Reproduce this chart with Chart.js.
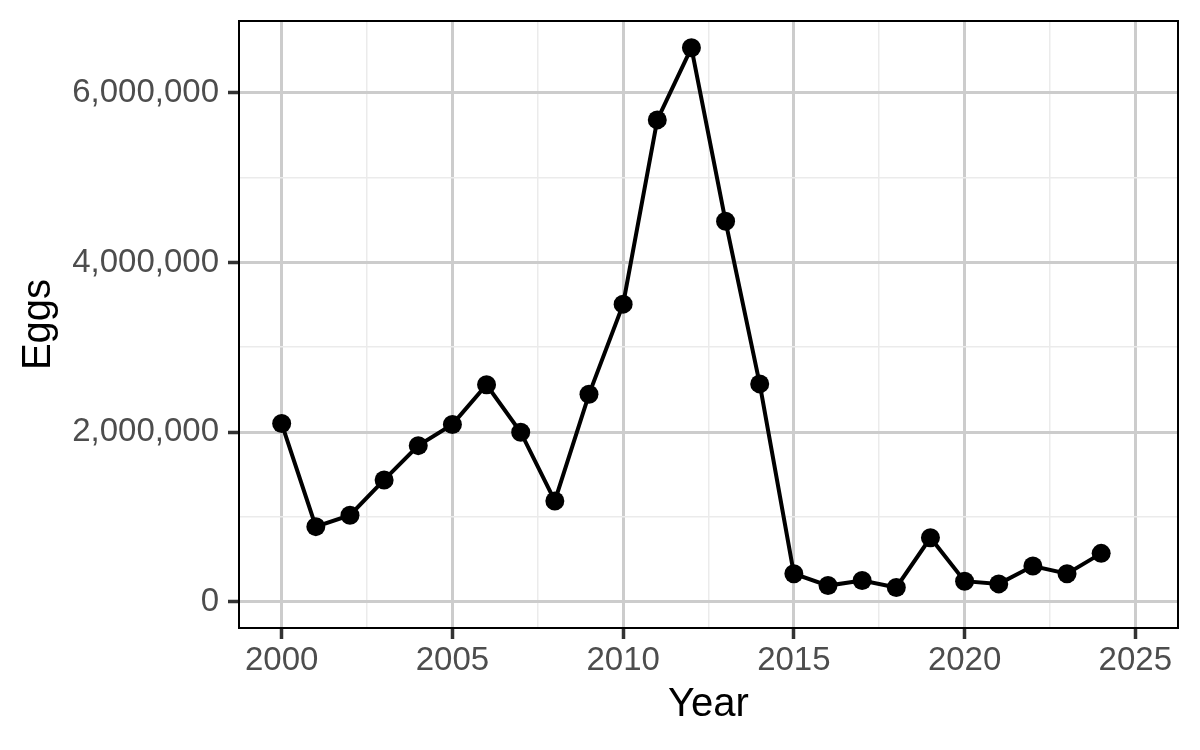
<!DOCTYPE html>
<html>
<head>
<meta charset="utf-8">
<title>Eggs by year</title>
<script src="https://cdn.jsdelivr.net/npm/chart.js@4/dist/chart.umd.min.js"></script>
<style>
  html, body { margin: 0; padding: 0; background: #fff; }
  #chart { display: block; }
</style>
</head>
<body>
<canvas id="chart" width="1200" height="750"></canvas>
<script>
// Values
const years = [2000, 2001, 2002, 2003, 2004, 2005, 2006, 2007, 2008, 2009, 2010, 2011, 2012,
               2013, 2014, 2015, 2016, 2017, 2018, 2019, 2020, 2021, 2022, 2023, 2024];
const eggs = [2100000, 885000, 1020000, 1435000, 1840000, 2090000, 2557000, 1998000, 1188000,
              2445000, 3508000, 5680000, 6530000, 4485000, 2568000, 330000, 190000, 250000,
              168000, 754000, 242000, 210000, 420000, 330000, 570000];

// x ticks: majors every 5 years, minors in between
const xTicks = [2000, 2002.5, 2005, 2007.5, 2010, 2012.5, 2015, 2017.5, 2020, 2022.5, 2025];
const yTicks = [0, 1000000, 2000000, 3000000, 4000000, 5000000, 6000000];

const isMajorX = v => v % 5 === 0;
const isMajorY = v => v % 2000000 === 0;

// ggplot-style panel border on top of everything
const panelBorder = {
  id: 'panelBorder',
  afterDraw(chart) {
    const { ctx, chartArea: a } = chart;
    ctx.save();
    ctx.strokeStyle = '#000';
    ctx.lineWidth = 2;
    ctx.strokeRect(a.left, a.top, a.right - a.left, a.bottom - a.top);
    ctx.restore();
  }
};

const ctx = document.getElementById('chart').getContext('2d');
new Chart(ctx, {
  type: 'line',
  data: {
    datasets: [{
      label: 'Eggs',
      data: years.map((y, i) => ({ x: y, y: eggs[i] })),
      borderColor: '#000',
      borderWidth: 4,
      tension: 0,
      pointRadius: 9.5,
      pointHoverRadius: 9.5,
      pointBackgroundColor: '#000',
      pointBorderWidth: 0
    }]
  },
  options: {
    responsive: false,
    animation: false,
    devicePixelRatio: 1,
    layout: { padding: { left: 0, top: 21, right: 22, bottom: 0 } },
    plugins: { legend: { display: false }, tooltip: { enabled: false } },
    scales: {
      x: {
        type: 'linear',
        min: 1998.75,
        max: 2026.25,
        afterBuildTicks: s => { s.ticks = xTicks.map(v => ({ value: v })); },
        afterFit: s => { s.height = 122; s.paddingLeft = 0; s.paddingRight = 0; },
        border: { display: false },
        grid: {
          color: c => isMajorX(c.tick.value) ? '#cccccc' : '#ebebeb',
          lineWidth: c => isMajorX(c.tick.value) ? 3 : 1.5,
          tickColor: c => isMajorX(c.tick.value) ? '#333333' : 'rgba(0,0,0,0)',
          tickWidth: 3.5,
          tickLength: 11
        },
        ticks: {
          autoSkip: false,
          maxRotation: 0,
          padding: 2,
          color: '#4d4d4d',
          font: { family: 'Liberation Sans, Arial, sans-serif', size: 33 },
          callback: v => isMajorX(v) ? String(v) : ''
        },
        title: {
          display: true,
          text: 'Year',
          color: '#000',
          padding: { top: 0, bottom: 21 },
          font: { family: 'Liberation Sans, Arial, sans-serif', size: 40 }
        }
      },
      y: {
        type: 'linear',
        min: -310000,
        max: 6846000,
        afterBuildTicks: s => { s.ticks = yTicks.map(v => ({ value: v })); },
        afterFit: s => { s.width = 239; s.paddingTop = 0; s.paddingBottom = 0; },
        border: { display: false },
        grid: {
          color: c => isMajorY(c.tick.value) ? '#cccccc' : '#ebebeb',
          lineWidth: c => isMajorY(c.tick.value) ? 3 : 1.5,
          tickColor: c => isMajorY(c.tick.value) ? '#333333' : 'rgba(0,0,0,0)',
          tickWidth: 3.5,
          tickLength: 11
        },
        ticks: {
          autoSkip: false,
          padding: 9,
          color: '#4d4d4d',
          font: { family: 'Liberation Sans, Arial, sans-serif', size: 33 },
          callback: v => isMajorY(v) ? v.toLocaleString('en-US') : ''
        },
        title: {
          display: true,
          text: 'Eggs',
          color: '#000',
          padding: { top: 15, bottom: 0 },
          font: { family: 'Liberation Sans, Arial, sans-serif', size: 40 }
        }
      }
    }
  },
  plugins: [panelBorder]
});
</script>
</body>
</html>
